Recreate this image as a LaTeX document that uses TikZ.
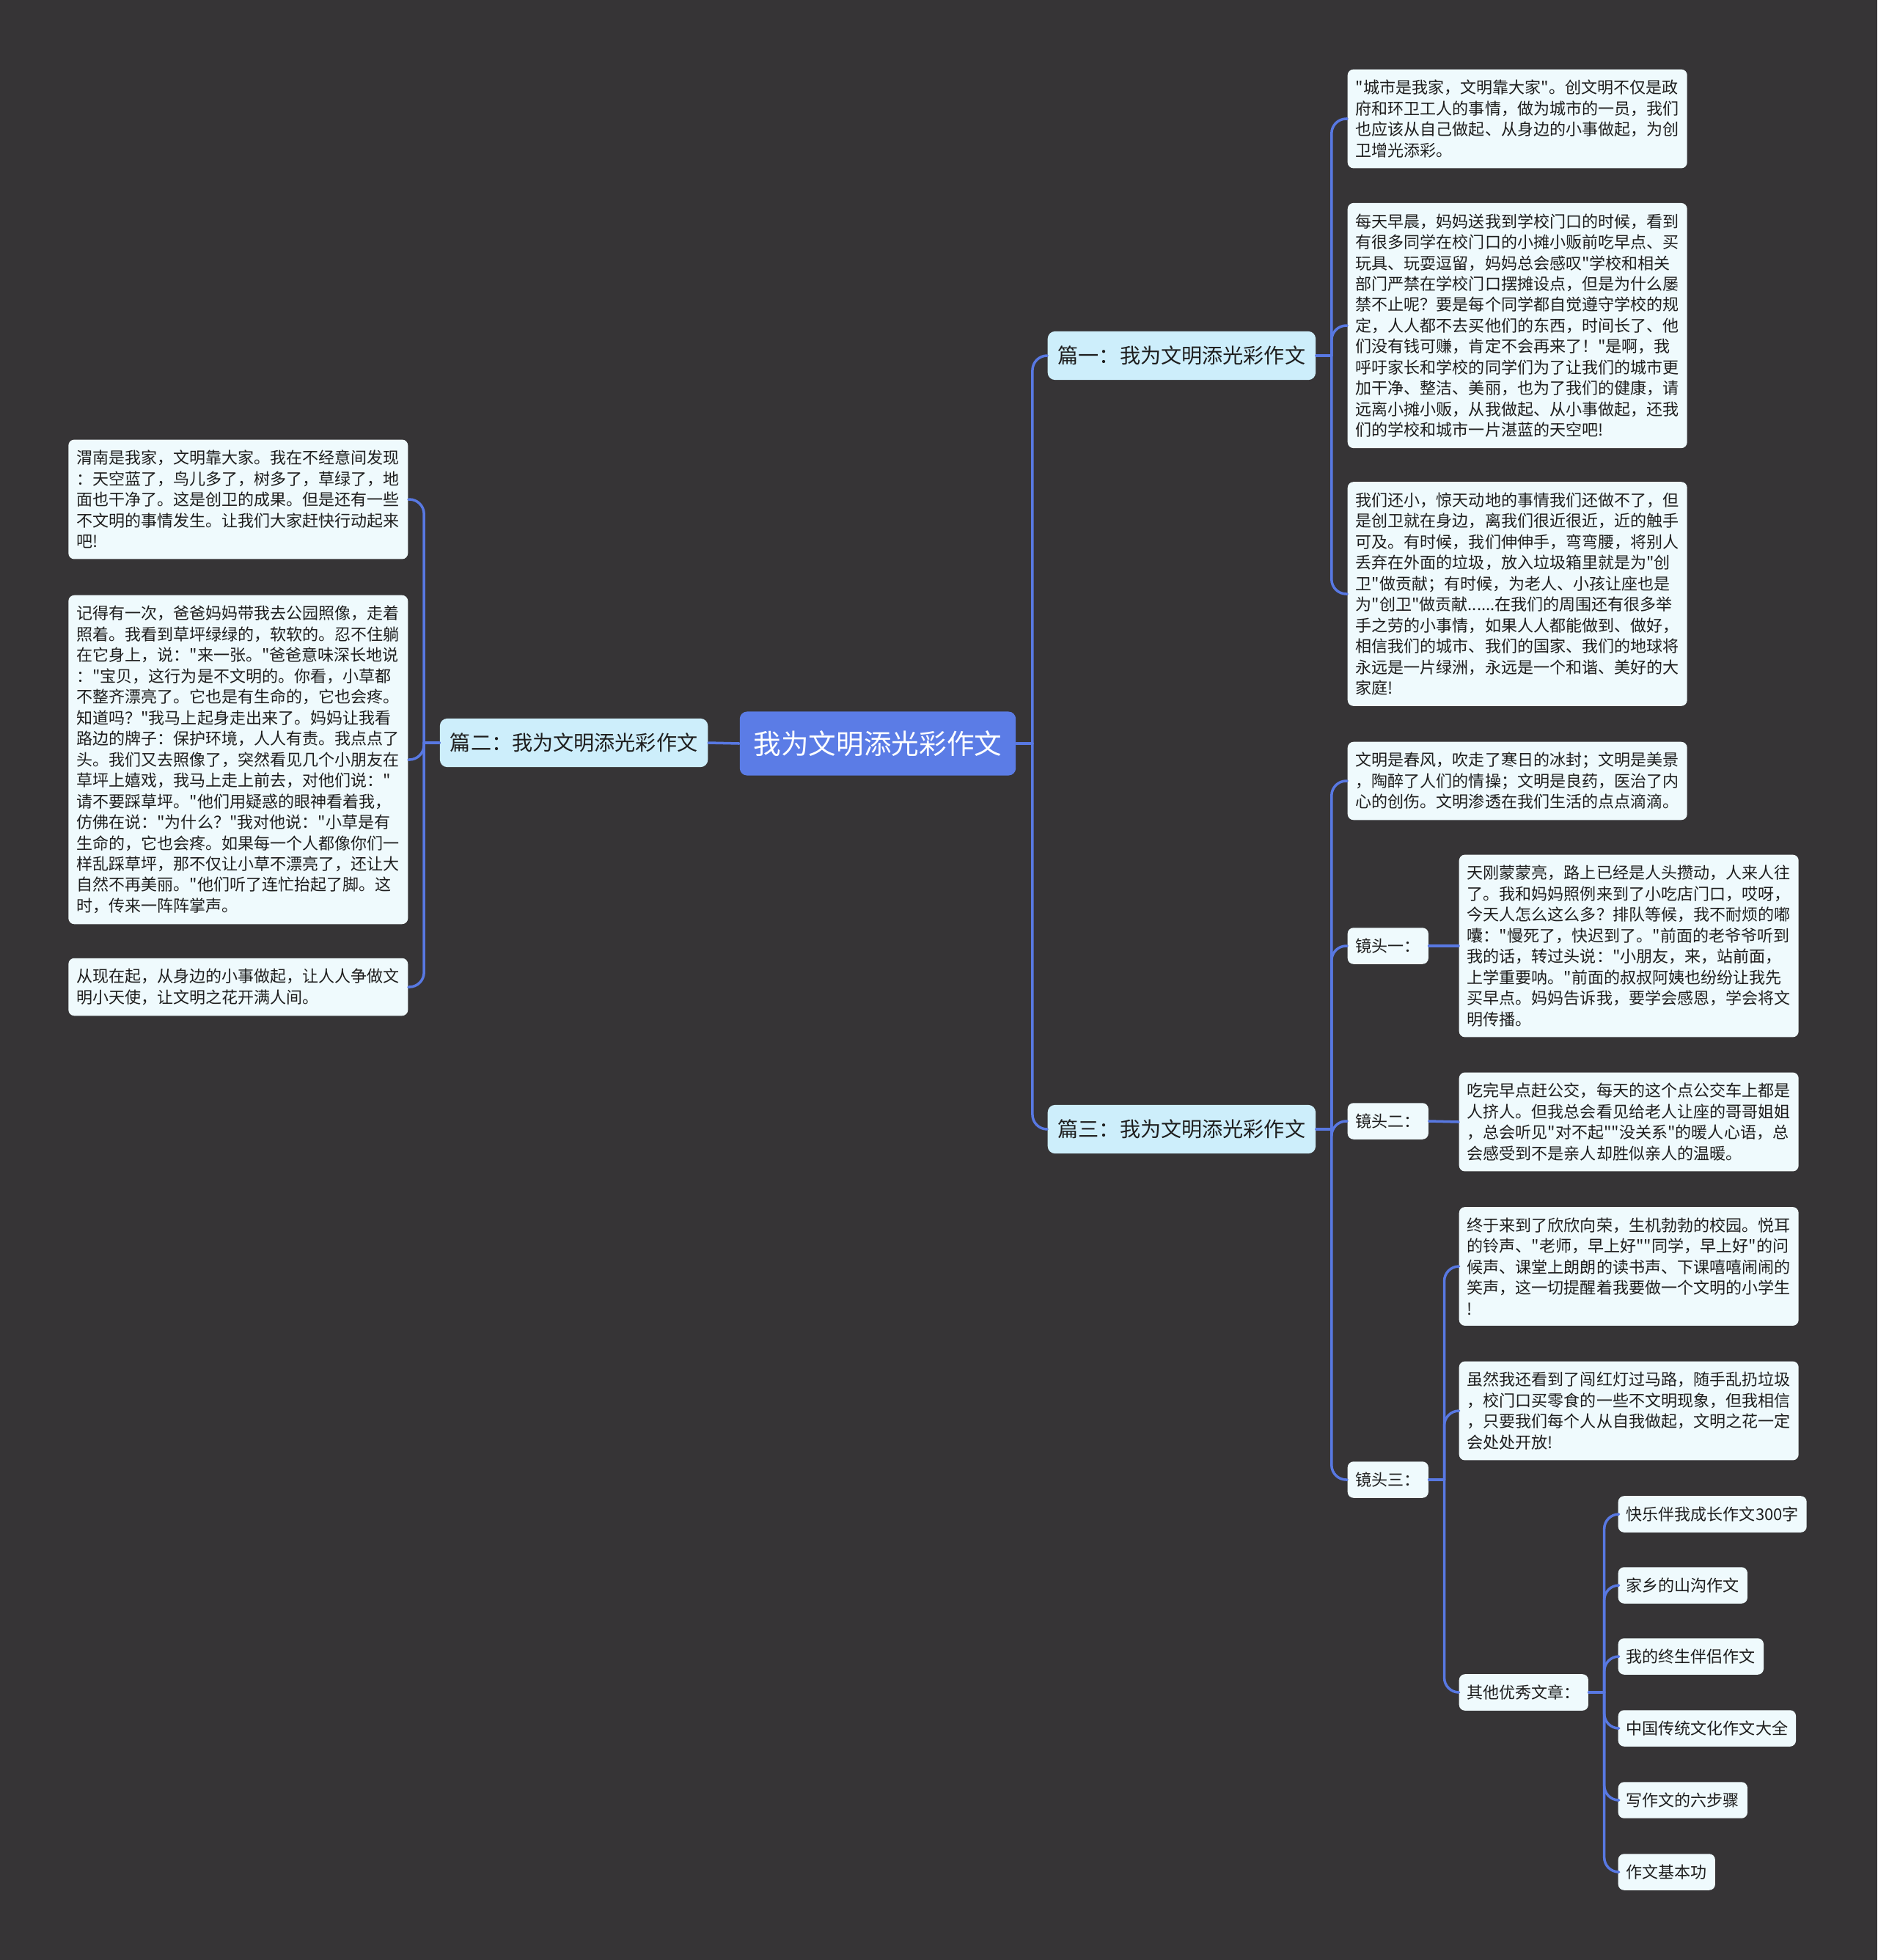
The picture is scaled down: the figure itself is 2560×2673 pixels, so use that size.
\documentclass[tikz,border=0pt]{standalone}
\usepackage{fontspec}
\setmainfont{Noto Sans CJK SC}[Ligatures=TeXOff]
\definecolor{bgdark}{HTML}{363436}
\definecolor{linkblue}{HTML}{5878E2}
\definecolor{rootblue}{HTML}{5B7CE6}
\definecolor{topicblue}{HTML}{CDEEFB}
\definecolor{leafwhite}{HTML}{EFFAFD}
\definecolor{inkdark}{HTML}{1E1E1E}

\begin{document}
\begin{tikzpicture}[x=0.1mm,y=-0.1mm,line cap=round,line join=round,
	link/.style={line width=1pt,color=linkblue,rounded corners=2mm},
	root/.style={fill=rootblue,text=white,rounded corners=1mm,inner xsep=1.9mm,inner ysep=2.6mm,font=\fontsize{10.7pt}{13pt}\selectfont},
	topic/.style={fill=topicblue,text=inkdark,rounded corners=1mm,inner xsep=1.4mm,inner ysep=2mm,font=\fontsize{8pt}{10pt}\selectfont},
	leaf/.style={fill=leafwhite,text=inkdark,rounded corners=0.8mm,inner xsep=1.1mm,inner ysep=1.45mm,font=\fontsize{6.27pt}{8.1pt}\selectfont},
	note/.style={leaf,text width=44.1mm,align=left}]
			\fill[bgdark] (0,0) rectangle (2560,2673);
			\useasboundingbox (0,0) rectangle (2560,2673);
			\node[root] (main) at (1197,1014) {我为文明添光彩作文};
			\node[topic,anchor=west] (p1) at (1428,485) {篇一：我为文明添光彩作文};
			\node[topic,anchor=east] (p2) at (966,1013) {篇二：我为文明添光彩作文};
			\node[topic,anchor=west] (p3) at (1428,1540) {篇三：我为文明添光彩作文};
			\node[note,anchor=west] (a1) at (1837,162) {"城市是我家，文明靠大家"。创文明不仅是政\\府和环卫工人的事情，做为城市的一员，我们\\也应该从自己做起、从身边的小事做起，为创\\卫增光添彩。};
			\node[note,anchor=west] (a2) at (1837,444) {每天早晨，妈妈送我到学校门口的时候，看到\\有很多同学在校门口的小摊小贩前吃早点、买\\玩具、玩耍逗留，妈妈总会感叹"学校和相关\\部门严禁在学校门口摆摊设点，但是为什么屡\\禁不止呢？要是每个同学都自觉遵守学校的规\\定，人人都不去买他们的东西，时间长了、他\\们没有钱可赚，肯定不会再来了！"是啊，我\\呼吁家长和学校的同学们为了让我们的城市更\\加干净、整洁、美丽，也为了我们的健康，请\\远离小摊小贩，从我做起、从小事做起，还我\\们的学校和城市一片湛蓝的天空吧!};
			\node[note,anchor=west] (a3) at (1837,810) {我们还小，惊天动地的事情我们还做不了，但\\是创卫就在身边，离我们很近很近，近的触手\\可及。有时候，我们伸伸手，弯弯腰，将别人\\丢弃在外面的垃圾，放入垃圾箱里就是为"创\\卫"做贡献；有时候，为老人、小孩让座也是\\为"创卫"做贡献......在我们的周围还有很多举\\手之劳的小事情，如果人人都能做到、做好，\\相信我们的城市、我们的国家、我们的地球将\\永远是一片绿洲，永远是一个和谐、美好的大\\家庭!};
			\node[note,anchor=east] (l1) at (557,681) {渭南是我家，文明靠大家。我在不经意间发现\\：天空蓝了，鸟儿多了，树多了，草绿了，地\\面也干净了。这是创卫的成果。但是还有一些\\不文明的事情发生。让我们大家赶快行动起来\\吧!};
			\node[note,anchor=east] (l2) at (557,1036) {记得有一次，爸爸妈妈带我去公园照像，走着\\照着。我看到草坪绿绿的，软软的。忍不住躺\\在它身上，说："来一张。"爸爸意味深长地说\\："宝贝，这行为是不文明的。你看，小草都\\不整齐漂亮了。它也是有生命的，它也会疼。\\知道吗？"我马上起身走出来了。妈妈让我看\\路边的牌子：保护环境，人人有责。我点点了\\头。我们又去照像了，突然看见几个小朋友在\\草坪上嬉戏，我马上走上前去，对他们说："\\请不要踩草坪。"他们用疑惑的眼神看着我，\\仿佛在说："为什么？"我对他说："小草是有\\生命的，它也会疼。如果每一个人都像你们一\\样乱踩草坪，那不仅让小草不漂亮了，还让大\\自然不再美丽。"他们听了连忙抬起了脚。这\\时，传来一阵阵掌声。};
			\node[note,anchor=east] (l3) at (557,1346) {从现在起，从身边的小事做起，让人人争做文\\明小天使，让文明之花开满人间。};
			\node[note,anchor=west] (c0) at (1837,1065) {文明是春风，吹走了寒日的冰封；文明是美景\\，陶醉了人们的情操；文明是良药，医治了内\\心的创伤。文明渗透在我们生活的点点滴滴。};
			\node[leaf,anchor=west] (shot1) at (1837,1290) {镜头一：};
			\node[leaf,anchor=west] (shot2) at (1837,1529) {镜头二：};
			\node[leaf,anchor=west] (shot3) at (1837,2018) {镜头三：};
			\node[note,anchor=west] (s1) at (1989,1290) {天刚蒙蒙亮，路上已经是人头攒动，人来人往\\了。我和妈妈照例来到了小吃店门口，哎呀，\\今天人怎么这么多？排队等候，我不耐烦的嘟\\囔："慢死了，快迟到了。"前面的老爷爷听到\\我的话，转过头说："小朋友，来，站前面，\\上学重要呐。"前面的叔叔阿姨也纷纷让我先\\买早点。妈妈告诉我，要学会感恩，学会将文\\明传播。};
			\node[note,anchor=west] (s2) at (1989,1530) {吃完早点赶公交，每天的这个点公交车上都是\\人挤人。但我总会看见给老人让座的哥哥姐姐\\，总会听见"对不起""没关系"的暖人心语，总\\会感受到不是亲人却胜似亲人的温暖。};
			\node[note,anchor=west] (s3a) at (1989,1727) {终于来到了欣欣向荣，生机勃勃的校园。悦耳\\的铃声、"老师，早上好""同学，早上好"的问\\候声、课堂上朗朗的读书声、下课嘻嘻闹闹的\\笑声，这一切提醒着我要做一个文明的小学生\\!};
			\node[note,anchor=west] (s3b) at (1989,1924) {虽然我还看到了闯红灯过马路，随手乱扔垃圾\\，校门口买零食的一些不文明现象，但我相信\\，只要我们每个人从自我做起，文明之花一定\\会处处开放!};
			\node[leaf,anchor=west] (more) at (1989,2308) {其他优秀文章：};
			\node[leaf,anchor=west] (k1) at (2206,2065) {快乐伴我成长作文300字};
			\node[leaf,anchor=west] (k2) at (2206,2162) {家乡的山沟作文};
			\node[leaf,anchor=west] (k3) at (2206,2259) {我的终生伴侣作文};
			\node[leaf,anchor=west] (k4) at (2206,2357) {中国传统文化作文大全};
			\node[leaf,anchor=west] (k5) at (2206,2455) {写作文的六步骤};
			\node[leaf,anchor=west] (k6) at (2206,2553) {作文基本功};
			\draw[link] (main.east) -- ++(22,0);
			\draw[link] (main.east) ++(22,0) |- (p1.west);
			\draw[link] (main.east) ++(22,0) |- (p3.west);
			\draw[link] (main.west) -- (p2.east);
			\draw[link] (p2.west) -- ++(-21,0);
			\draw[link] (p2.west) ++(-21,0) |- (l1.east);
			\draw[link] (p2.west) ++(-21,0) |- (l2.east);
			\draw[link] (p2.west) ++(-21,0) |- (l3.east);
			\draw[link] (p1.east) -- ++(21,0);
			\draw[link] (p1.east) ++(21,0) |- (a1.west);
			\draw[link] (p1.east) ++(21,0) |- (a2.west);
			\draw[link] (p1.east) ++(21,0) |- (a3.west);
			\draw[link] (p3.east) -- ++(21,0);
			\draw[link] (p3.east) ++(21,0) |- (c0.west);
			\draw[link] (p3.east) ++(21,0) |- (shot1.west);
			\draw[link] (p3.east) ++(21,0) |- (shot2.west);
			\draw[link] (p3.east) ++(21,0) |- (shot3.west);
			\draw[link] (shot1.east) -- (s1.west);
			\draw[link] (shot2.east) -- (s2.west);
			\draw[link] (shot3.east) -- ++(21,0);
			\draw[link] (shot3.east) ++(21,0) |- (s3a.west);
			\draw[link] (shot3.east) ++(21,0) |- (s3b.west);
			\draw[link] (shot3.east) ++(21,0) |- (more.west);
			\draw[link] (more.east) -- ++(21,0);
			\draw[link] (more.east) ++(21,0) |- (k1.west);
			\draw[link] (more.east) ++(21,0) |- (k2.west);
			\draw[link] (more.east) ++(21,0) |- (k3.west);
			\draw[link] (more.east) ++(21,0) |- (k4.west);
			\draw[link] (more.east) ++(21,0) |- (k5.west);
			\draw[link] (more.east) ++(21,0) |- (k6.west);
\end{tikzpicture}
\end{document}
